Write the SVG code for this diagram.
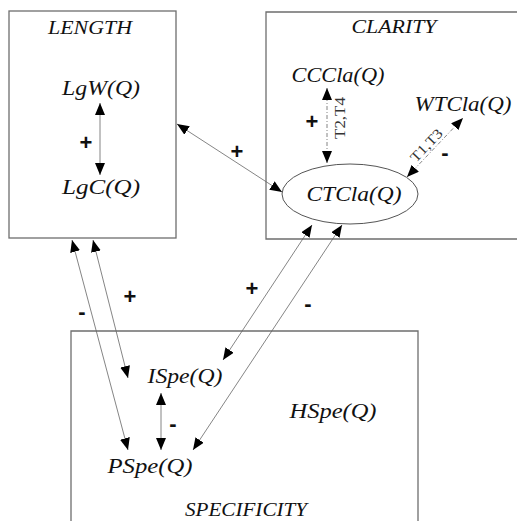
<svg xmlns="http://www.w3.org/2000/svg" width="517" height="521" viewBox="0 0 517 521">
<style>
.box{fill:none;stroke:#6e6e6e;stroke-width:1.3}
.lbl{font-family:"Liberation Serif","Times New Roman",serif;font-style:italic;font-size:21px;fill:#111;text-anchor:middle}
.ttl{font-family:"Liberation Serif","Times New Roman",serif;font-style:italic;font-size:18px;fill:#111;text-anchor:middle}
.sgn{font-family:"Liberation Sans",Arial,sans-serif;font-weight:bold;font-size:22px;fill:#111;text-anchor:middle}
.tt{font-family:"Liberation Serif","Times New Roman",serif;font-size:14px;fill:#333;text-anchor:middle}
.ln{fill:none;stroke:#666;stroke-width:0.8;marker-start:url(#ah);marker-end:url(#ah)}
.dl{fill:none;stroke:#777;stroke-width:0.9;stroke-dasharray:4 2 1 2;marker-start:url(#ah);marker-end:url(#ah)}
</style>
<defs>
<marker id="ah" viewBox="0 0 12 10" refX="12" refY="5" markerWidth="12" markerHeight="10" markerUnits="userSpaceOnUse" orient="auto-start-reverse">
<path d="M0,0 L12,5 L0,10 z" fill="#000"/>
</marker>
</defs>
<rect width="517" height="521" fill="#fff"/>

<g id="length">
<rect class="box" x="9" y="11" width="167" height="227"/>
<text class="ttl" x="90" y="34" textLength="84" lengthAdjust="spacingAndGlyphs">LENGTH</text>
</g>
<g id="LgW"><text class="lbl" x="101" y="95" textLength="78" lengthAdjust="spacingAndGlyphs">LgW(Q)</text></g>
<g id="LgC"><text class="lbl" x="101" y="194" textLength="78" lengthAdjust="spacingAndGlyphs">LgC(Q)</text></g>

<g id="clarity">
<path class="box" d="M517,12 H266 V239 H517"/>
<text class="ttl" x="394" y="33" textLength="85" lengthAdjust="spacingAndGlyphs">CLARITY</text>
</g>
<g id="CCCla"><text class="lbl" x="338" y="82" textLength="93" lengthAdjust="spacingAndGlyphs">CCCla(Q)</text></g>
<g id="WTCla"><text class="lbl" x="463" y="111" textLength="97" lengthAdjust="spacingAndGlyphs">WTCla(Q)</text></g>
<g id="CTCla">
<ellipse cx="350" cy="194" rx="68" ry="30" fill="none" stroke="#555" stroke-width="1"/>
<text class="lbl" x="354" y="201" textLength="95" lengthAdjust="spacingAndGlyphs">CTCla(Q)</text>
</g>

<g id="specificity">
<path class="box" d="M71,521 V331 H418 V521"/>
<text class="ttl" x="246" y="516" textLength="122" lengthAdjust="spacingAndGlyphs">SPECIFICITY</text>
</g>
<g id="ISpe"><text class="lbl" x="185" y="383" textLength="75" lengthAdjust="spacingAndGlyphs">ISpe(Q)</text></g>
<g id="PSpe"><text class="lbl" x="150" y="473" textLength="85" lengthAdjust="spacingAndGlyphs">PSpe(Q)</text></g>
<g id="HSpe"><text class="lbl" x="333" y="418" textLength="87" lengthAdjust="spacingAndGlyphs">HSpe(Q)</text></g>

<g id="connectors">
<line class="ln" x1="100" y1="103" x2="100" y2="175"/>
<text class="sgn" x="86" y="150">+</text>
<line class="ln" x1="177" y1="124" x2="282" y2="192"/>
<text class="sgn" x="237" y="159">+</text>
<line class="dl" x1="327" y1="88" x2="327" y2="163"/>
<text class="sgn" x="312" y="129">+</text>
<text class="tt" transform="translate(345,118) rotate(-90)" textLength="42" lengthAdjust="spacingAndGlyphs">T2,T4</text>
<line class="dl" x1="407" y1="177" x2="463" y2="118"/>
<text class="tt" transform="translate(432,150.6) rotate(-46.5)" y="-3" textLength="40" lengthAdjust="spacingAndGlyphs">T1,T3</text>
<text class="sgn" x="445" y="160">-</text>
<line class="ln" x1="72" y1="240" x2="128" y2="450"/>
<text class="sgn" x="82" y="319">-</text>
<line class="ln" x1="93" y1="240" x2="128" y2="378"/>
<text class="sgn" x="130" y="304">+</text>
<line class="ln" x1="312" y1="225" x2="223" y2="360"/>
<text class="sgn" x="252" y="296">+</text>
<line class="ln" x1="342" y1="225" x2="193" y2="450"/>
<text class="sgn" x="308" y="311">-</text>
<line class="ln" x1="161" y1="393" x2="161" y2="450"/>
<text class="sgn" x="173" y="431">-</text>
</g>
</svg>
